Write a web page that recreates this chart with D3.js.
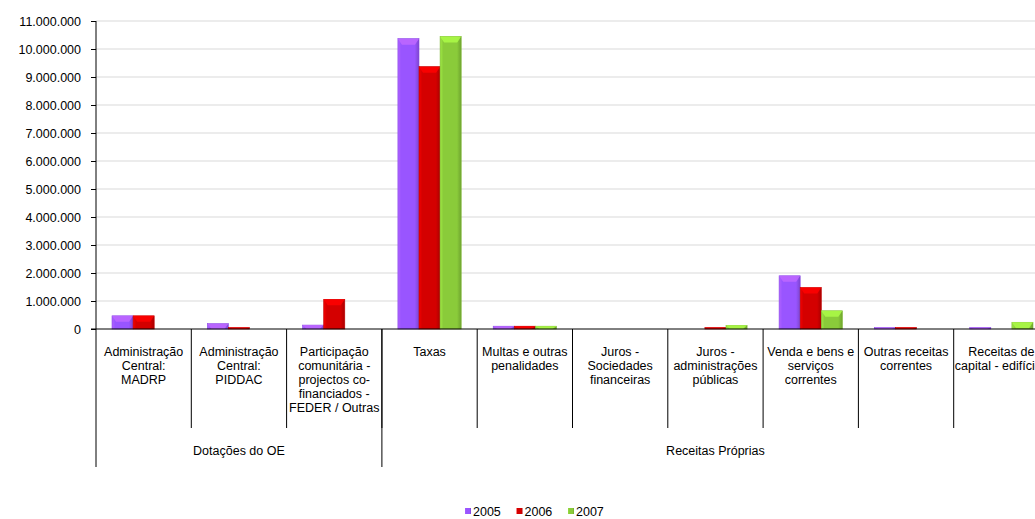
<!DOCTYPE html>
<html>
<head>
<meta charset="utf-8">
<script src="https://cdn.jsdelivr.net/npm/d3@7"></script>
<style>
  body { margin: 0; background: #fff; overflow: hidden; }
  text { font-family: "Liberation Sans", Arial, sans-serif; fill: #000; }
</style>
</head>
<body>
<div id="chart"></div>
<script>
// category labels (split into lines as in the original)
const categories = [
  ['Administração', 'Central:', 'MADRP'],
  ['Administração', 'Central:', 'PIDDAC'],
  ['Participação', 'comunitária -', 'projectos co-', 'financiados -', 'FEDER / Outras'],
  ['Taxas'],
  ['Multas e outras', 'penalidades'],
  ['Juros -', 'Sociedades', 'financeiras'],
  ['Juros -', 'administrações', 'públicas'],
  ['Venda e bens e', 'serviços', 'correntes'],
  ['Outras receitas', 'correntes'],
  ['Receitas de', 'capital - edifícios']
];
const groups = ['Dotações do OE', 'Receitas Próprias'];
const groupSizes = [3, 7];
const years = ['2005', '2006', '2007'];
const v2005 = [470000, 190000, 140000, 10370000, 100000, 0, 0, 1900000, 50000, 50000];
const v2006 = [470000, 50000, 1060000, 9370000, 100000, 0, 50000, 1480000, 50000, 0];
const v2007 = [0, 0, 0, 10450000, 100000, 0, 130000, 650000, 0, 240000];
const yTicks = [0, 1000000, 2000000, 3000000, 4000000, 5000000, 6000000, 7000000, 8000000, 9000000, 10000000, 11000000];
const colors = ['#9955ff', '#d40000', '#8acb3a'];

const width = 1035, height = 519;
const plotLeft = 96, plotTop = 21, plotBottom = 329;
const catW = 95.3;
const plotRight = plotLeft + catW * categories.length;

const svg = d3.select('#chart').append('svg')
  .attr('width', width).attr('height', height);

const y = d3.scaleLinear().domain([0, 11000000]).range([plotBottom, plotTop]);
const x0 = d3.scaleBand().domain(d3.range(categories.length)).range([plotLeft, plotRight]);
const x1 = d3.scaleBand().domain(years).range([16, catW - 16]);

const fmt = d => d3.format(',')(d).replace(/,/g, '.');

// gradients for the bevelled bars
const defs = svg.append('defs');
colors.forEach((c, i) => {
  const g = defs.append('linearGradient').attr('id', 'g' + i)
    .attr('x1', '0%').attr('x2', '100%').attr('y1', '0%').attr('y2', '0%');
  const base = d3.color(c);
  g.append('stop').attr('offset', '0%').attr('stop-color', base.brighter(0.4));
  g.append('stop').attr('offset', '15%').attr('stop-color', base);
  g.append('stop').attr('offset', '80%').attr('stop-color', base);
  g.append('stop').attr('offset', '100%').attr('stop-color', base.darker(0.6));
});

// gridlines
svg.append('g').selectAll('line')
  .data(yTicks.filter(d => d > 0))
  .enter().append('line')
  .attr('x1', plotLeft).attr('x2', plotRight)
  .attr('y1', d => y(d)).attr('y2', d => y(d))
  .attr('stroke', '#d9d9d9').attr('stroke-width', 1);

// y axis
const yAxis = svg.append('g')
  .attr('transform', `translate(${plotLeft},0)`)
  .call(d3.axisLeft(y).tickValues(yTicks).tickFormat(fmt).tickSize(5).tickPadding(10));
yAxis.select('.domain').remove();
yAxis.selectAll('line').attr('stroke', '#000');
yAxis.selectAll('text').style('font-size', '12.5px')
  .style('font-family', '"Liberation Sans", Arial, sans-serif');

// bars
const series = [v2005, v2006, v2007];
series.forEach((vals, si) => {
  const gs = svg.append('g');
  const bars = gs.selectAll('g').data(vals.map((v, i) => ({ v, i })).filter(d => d.v > 0))
    .enter().append('g');
  const bx = d => x0(d.i) + x1(years[si]);
  const bw = x1.bandwidth();
  bars.append('rect')
    .attr('x', bx).attr('y', d => y(d.v))
    .attr('width', bw).attr('height', d => plotBottom - y(d.v))
    .attr('fill', `url(#g${si})`)
    .attr('stroke', d3.color(colors[si]).darker(0.3)).attr('stroke-width', 0.6);
  // top bevel cap
  bars.append('path')
    .attr('d', d => {
      const x = bx(d), t = y(d.v), h = Math.min(6, plotBottom - t);
      return `M${x},${t}L${x + bw},${t}L${x + bw - 4},${t + h}L${x + 4},${t + h}Z`;
    })
    .attr('fill', d3.color(colors[si]).brighter(0.6))
    .attr('opacity', 0.85);
});

// axes lines
svg.append('line').attr('x1', plotLeft).attr('x2', plotLeft).attr('y1', plotTop).attr('y2', 467)
  .attr('stroke', '#000');
svg.append('line').attr('x1', plotLeft - 5).attr('x2', plotRight).attr('y1', plotBottom).attr('y2', plotBottom)
  .attr('stroke', '#000');

// category separators
svg.append('g').selectAll('line')
  .data(d3.range(1, categories.length + 1))
  .enter().append('line')
  .attr('x1', i => plotLeft + catW * i).attr('x2', i => plotLeft + catW * i)
  .attr('y1', plotBottom).attr('y2', 428)
  .attr('stroke', '#000');

// group separators
let acc = 0;
const bounds = groupSizes.map(n => { const s = acc; acc += n; return [s, acc]; });
svg.append('g').selectAll('line')
  .data(bounds)
  .enter().append('line')
  .attr('x1', b => plotLeft + catW * b[1]).attr('x2', b => plotLeft + catW * b[1])
  .attr('y1', plotBottom).attr('y2', 467)
  .attr('stroke', '#000');

// category labels
const lab = svg.append('g').selectAll('text')
  .data(categories)
  .enter().append('text')
  .attr('text-anchor', 'middle')
  .style('font-size', '12.5px');
lab.each(function (lines, i) {
  d3.select(this).selectAll('tspan').data(lines).enter().append('tspan')
    .attr('x', x0(i) + catW / 2)
    .attr('y', (d, j) => 356 + j * 14)
    .text(d => d);
});

// group labels
svg.append('g').selectAll('text')
  .data(bounds)
  .enter().append('text')
  .attr('x', (b) => plotLeft + catW * (b[0] + b[1]) / 2)
  .attr('y', 455)
  .attr('text-anchor', 'middle')
  .style('font-size', '12.5px')
  .text((b, i) => groups[i]);

// legend
const leg = svg.append('g').attr('transform', 'translate(465,508)');
years.forEach((yr, i) => {
  const g = leg.append('g').attr('transform', `translate(${i * 51.5},0)`);
  g.append('rect').attr('width', 6).attr('height', 6)
    .attr('fill', `url(#g${i})`);
  g.append('text').attr('x', 8).attr('y', 7.5)
    .style('font-size', '12.5px').text(yr);
});
</script>
</body>
</html>
